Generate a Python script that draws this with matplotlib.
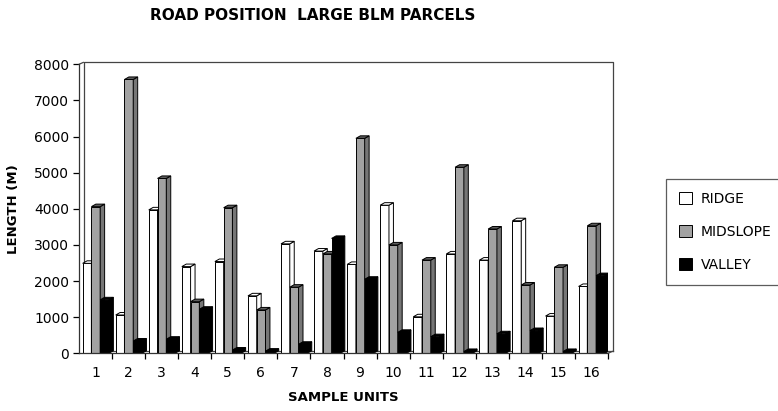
import numpy as np
import matplotlib
matplotlib.use("Agg")
import matplotlib.pyplot as plt
from matplotlib.patches import Polygon, Patch
from matplotlib.transforms import ScaledTranslation

#### Data ####

units = [str(i) for i in range(1, 17)]
ridge = [2490, 1060, 3970, 2400, 2540, 1590, 3030, 2830, 2460, 4100, 1010, 2750, 2580, 3670, 1030, 1850]
midslope = [4060, 7580, 4840, 1430, 4030, 1200, 1830, 2750, 5950, 3000, 2580, 5150, 3440, 1890, 2380, 3530]
valley = [1480, 340, 390, 1220, 90, 60, 250, 3180, 2050, 580, 460, 50, 540, 630, 50, 2150]

series_names = ["RIDGE", "MIDSLOPE", "VALLEY"]
front_colors = ["white", "#a2a2a2", "black"]
side_colors = ["white", "#767676", "black"]
top_colors = ["white", "#5e5e5e", "black"]

#### Plot ####

plt.rcParams["font.family"] = "DejaVu Sans"

fig = plt.figure(figsize=(7.78, 4.11), dpi=100)
ax = fig.add_axes([79 / 778, 57.7 / 411, 529 / 778, 289 / 411])
ax.set_xlim(0, 16)
ax.set_ylim(0, 8000)

bar_w = 0.265
start = 0.11
depth_x = 0.135  # depth of the fake 3d, in category units
depth_y = 70  # depth in data units

x = np.arange(len(units))
for k, (vals, name) in enumerate(zip([ridge, midslope, valley], series_names)):
    lefts = x + start + k * bar_w
    z = 2 + k
    ax.bar(lefts, vals, width=bar_w, align="edge", color=front_colors[k],
           edgecolor="black", linewidth=0.7, zorder=z)
    for left, h in zip(lefts, vals):
        right = left + bar_w
        side = Polygon([(right, 0), (right + depth_x, depth_y),
                        (right + depth_x, h + depth_y), (right, h)],
                       closed=True, facecolor=side_colors[k], edgecolor="black",
                       linewidth=0.7, zorder=z)
        top = Polygon([(left, h), (left + depth_x, h + depth_y),
                       (right + depth_x, h + depth_y), (right, h)],
                      closed=True, facecolor=top_colors[k], edgecolor="black",
                      linewidth=0.7, zorder=z)
        ax.add_patch(side)
        ax.add_patch(top)

# back wall of the 3d box
off = ax.transAxes + ScaledTranslation(4.5 / 100, 2 / 100, fig.dpi_scale_trans)
wall_kw = dict(color="#444444", linewidth=0.9, clip_on=False)
ax.plot([0, 0, 1, 1], [0, 1, 1, 0], transform=off, zorder=1, **wall_kw)
ax.plot([0, 1], [0, 0], transform=off, zorder=1, **wall_kw)
# corner connectors
ax.annotate("", xy=(0, 1), xycoords=off, xytext=(0, 1), textcoords=ax.transAxes,
            arrowprops=dict(arrowstyle="-", color="#444444", lw=0.9,
                            shrinkA=0, shrinkB=0))
ax.annotate("", xy=(1, 0), xycoords=off, xytext=(1, 0), textcoords=ax.transAxes,
            arrowprops=dict(arrowstyle="-", color="#444444", lw=0.9,
                            shrinkA=0, shrinkB=0))

for s in ["top", "right"]:
    ax.spines[s].set_visible(False)
for s in ["left", "bottom"]:
    ax.spines[s].set_linewidth(0.9)
    ax.spines[s].set_color("#333333")
    ax.spines[s].set_zorder(6)

ax.set_yticks(np.arange(0, 8001, 1000))
ax.tick_params(axis="y", length=4, width=0.9, pad=3, labelsize=10)
ax.set_xticks(x + 0.5)
ax.set_xticklabels(units)
ax.set_xticks(np.arange(1, 17), minor=True)
ax.tick_params(axis="x", which="major", length=0, pad=9, labelsize=10)
ax.tick_params(axis="x", which="minor", length=4, width=0.9)

ax.set_xlabel("SAMPLE UNITS", fontsize=9.5, fontweight="bold", labelpad=8)
ax.set_ylabel("LENGTH (M)", fontsize=9.5, fontweight="bold", labelpad=10)

fig.text(313 / 778, 1 - 16 / 411, "ROAD POSITION  LARGE BLM PARCELS",
         ha="center", va="center", fontsize=11, fontweight="bold")

handles = [Patch(facecolor=c, edgecolor="black", linewidth=0.7) for c in front_colors]
leg = fig.legend(handles, series_names, loc="upper left",
                 bbox_to_anchor=(666 / 778, 1 - 179 / 411), borderaxespad=0,
                 fontsize=10, frameon=True, fancybox=False, edgecolor="#333333",
                 handlelength=0.95, handleheight=0.95, handletextpad=0.6,
                 labelspacing=1.35, borderpad=0.95)
leg.get_frame().set_linewidth(0.9)

fig.savefig("out.png", dpi=100)
